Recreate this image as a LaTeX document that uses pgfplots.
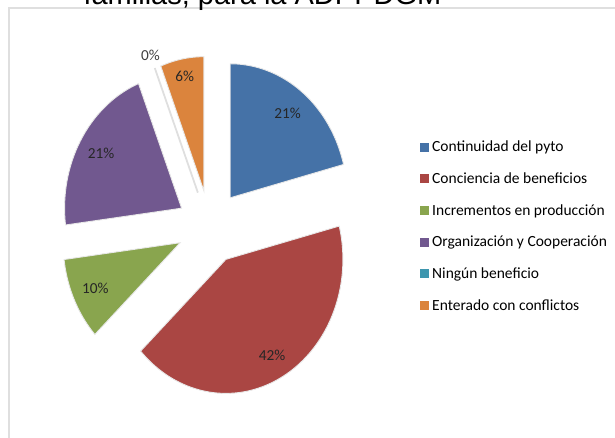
\documentclass[border=0pt]{standalone}
\usepackage{fontspec}
\setmainfont{Carlito}
\newfontfamily\arialf{Liberation Sans}
\usepackage{pgfplots}
\pgfplotsset{compat=1.18}
\definecolor{cBlue}{RGB}{69,114,167}
\definecolor{cRed}{RGB}{170,70,67}
\definecolor{cGreen}{RGB}{137,165,78}
\definecolor{cPurple}{RGB}{113,88,143}
\definecolor{cTeal}{RGB}{61,150,174}
\definecolor{cOrange}{RGB}{219,132,61}
\def\cx{210}\def\cy{211}\def\ex{33}\def\sy{1.12}\def\Rx{117}\def\Ry{134}
\newcommand\labelfont{\fontsize{15.3}{17}\selectfont}
% #1 cumulative percent before, #2 value, #3 colour, #4 label radius factor
\newcommand\pieslice[4]{%
  \pgfmathsetmacro\a{90-3.6*(#1+#2)}%
  \pgfmathsetmacro\b{90-3.6*#1}%
  \pgfmathsetmacro\m{(\a+\b)/2}%
  \pgfmathsetmacro\vx{\cx+\ex*cos(\m)}%
  \pgfmathsetmacro\vy{\cy+\ex*\sy*sin(\m)}%
  \pgfmathsetmacro\lx{\vx+#4*\Rx*cos(\m)}%
  \pgfmathsetmacro\ly{\vy+#4*\Ry*sin(\m)}%
  \edef\doit{\noexpand\addplot[fill=#3, draw=white!82!gray, line width=0.9pt, domain=\a:\b, samples=90]
    ({\vx+\Rx*cos(x)},{\vy+\Ry*sin(x)}) -- (axis cs:\vx,\vy) -- cycle;
    \noexpand\node[font=\noexpand\labelfont, text=black!85] at (axis cs:\lx,\ly) {#2\noexpand\%};}%
  \doit
}
% zero slice: #1 cumulative percent, #2 colour
\newcommand\zeroslice[2]{%
  \pgfmathsetmacro\m{90-3.6*#1}%
  \pgfmathsetmacro\vx{\cx+\ex*cos(\m)}%
  \pgfmathsetmacro\vy{\cy+\ex*\sy*sin(\m)}%
  \pgfmathsetmacro\ox{\vx+\Rx*cos(\m)}%
  \pgfmathsetmacro\oy{\vy+\Ry*sin(\m)}%
  \pgfmathsetmacro\lx{\vx+1.1*\Rx*cos(\m)}%
  \pgfmathsetmacro\ly{\vy+1.1*\Ry*sin(\m)}%
  \edef\doit{\noexpand\addplot[fill=#2, draw=gray!25, line width=1.8pt] coordinates {(\vx,\vy) (\ox,\oy)};
    \noexpand\node[font=\noexpand\labelfont, text=black!75] at (axis cs:\lx,\ly) {0\noexpand\%};}%
  \doit
}
\begin{document}
\begin{tikzpicture}
\useasboundingbox (0pt,0pt) rectangle (615pt,438pt);
\clip (0pt,0pt) rectangle (615pt,438pt);
\draw[white!75!gray, line width=1.3pt] (9pt,-2pt) -- (9pt,430pt) -- (620pt,430pt);
\node[anchor=base west, font=\arialf\fontsize{29}{32}\selectfont] at (80pt,433.5pt) {familias, para la ADPPDGM};
\begin{axis}[
  at={(0pt,0pt)}, anchor=south west,
  scale only axis, width=615pt, height=438pt,
  xmin=0, xmax=615, ymin=0, ymax=438,
  hide axis, clip=false,
  legend style={at={(axis cs:420,300)}, anchor=north west, draw=none, fill=none,
    font=\fontsize{15.5}{17}\selectfont, row sep=13.4pt, inner sep=0pt,
    nodes={inner sep=3pt}},
  legend cell align=left,
  legend image code/.code={\fill[#1, draw=none] (0pt,-4.5pt) rectangle (9pt,4.5pt);},
]
\pieslice{0}{21}{cBlue}{0.8}
\addlegendentry{Continuidad del pyto}
\pieslice{21}{42}{cRed}{0.82}
\addlegendentry{Conciencia de beneficios}
\pieslice{63}{10}{cGreen}{0.8}
\addlegendentry{Incrementos en producción}
\pieslice{73}{21}{cPurple}{0.8}
\addlegendentry{Organización y Cooperación}
\zeroslice{94}{cTeal}
\addlegendentry{Ningún beneficio}
\pieslice{94}{6}{cOrange}{0.87}
\addlegendentry{Enterado con conflictos}
\end{axis}
\end{tikzpicture}
\end{document}
